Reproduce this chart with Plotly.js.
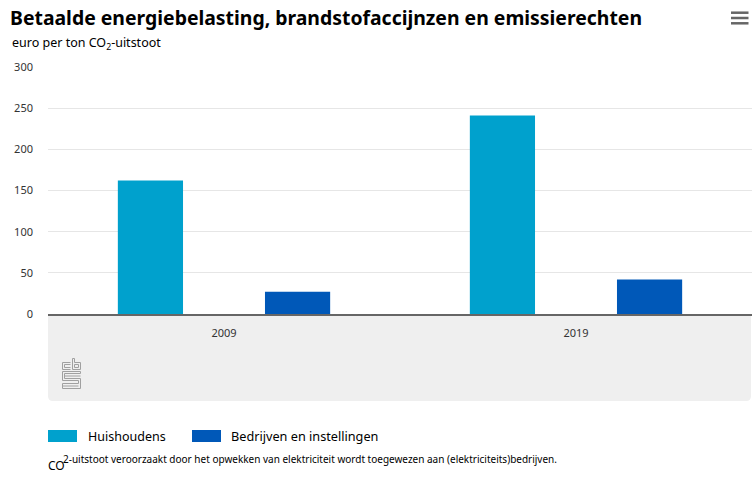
<!DOCTYPE html>
<html>
<head>
<meta charset="utf-8">
<script src="https://cdn.plot.ly/plotly-3.0.1.min.js"></script>
<style>html,body{margin:0;padding:0;background:#fff;}#chart{width:753px;height:482px;}</style>
</head>
<body>
<div id="chart"></div>
<script>
// Data
var categories = ["2009", "2019"];
var seriesNames = ["Huishoudens", "Bedrijven en instellingen"];
var huishoudens = [162, 241];
var bedrijven = [27, 42];
var yTicks = [0, 50, 100, 150, 200, 250, 300];
var colors = ["#00A1CD", "#0058B8"];

var W = 753, H = 482;
var mL = 48, mR = 1, mT = 67, mB = 168;
var pw = W - mL - mR, ph = H - mT - mB;
function px(x) { return (x - mL) / pw; }
function py(y) { return (H - mB - y) / ph; }

var font = "'Noto Sans', 'Open Sans', sans-serif";

var traces = [
  {type: "bar", name: seriesNames[0], x: categories, y: huishoudens, marker: {color: colors[0]}, hoverinfo: "y+name"},
  {type: "bar", name: seriesNames[1], x: categories, y: bedrijven, marker: {color: colors[1]}, hoverinfo: "y+name"}
];

var shapes = [];
// grey panel under the axis (rounded bottom corners)
(function(){
  var x0 = px(48), x1 = px(751), y0 = py(401), y1 = py(316);
  var r = 5;
  var rx = r / pw, ry = r / ph;
  shapes.push({type: "path", xref: "paper", yref: "paper", layer: "below",
    path: "M" + x0 + "," + y1 + " L" + x1 + "," + y1 + " L" + x1 + "," + (y0 + ry) +
          " Q" + x1 + "," + y0 + " " + (x1 - rx) + "," + y0 +
          " L" + (x0 + rx) + "," + y0 + " Q" + x0 + "," + y0 + " " + x0 + "," + (y0 + ry) + " Z",
    fillcolor: "#EFEFEF", line: {width: 0}});
})();
// hamburger menu
[12.7, 18, 23.3].forEach(function(y){
  shapes.push({type: "line", xref: "paper", yref: "paper", x0: px(731), x1: px(748.5), y0: py(y), y1: py(y),
    line: {color: "#666666", width: 2.5}});
});
// legend squares
var legX = [48, 192];
legX.forEach(function(x, i){
  shapes.push({type: "rect", xref: "paper", yref: "paper", x0: px(x), x1: px(x + 29), y0: py(442), y1: py(430),
    fillcolor: colors[i], line: {width: 0}});
});
// CBS logo (approximation, outline paths)
(function(){
  var c = "#a0a0a0";
  function P(pts) {
    var d = pts.map(function(p, i){ return (i ? "L" : "M") + px(p[0]) + "," + py(p[1]); }).join(" ");
    shapes.push({type: "path", xref: "paper", yref: "paper", path: d, line: {color: c, width: 1}});
  }
  var L = 62.5, R = 80.5;
  // "c"
  P([[L+8,362.5],[L,362.5],[L,369.5],[L+8,369.5]]);
  P([[L+8,364.5],[L+2,364.5],[L+2,367.5],[L+8,367.5]]);
  // "b"
  P([[L+10,358.5],[L+10,369.5],[R,369.5],[R,362.5],[L+12,362.5],[L+12,358.5],[L+10,358.5]]);
  P([[L+12,364.5],[R-2,364.5],[R-2,367.5],[L+12,367.5],[L+12,364.5]]);
  // "s" meander
  P([[R,371.5],[L,371.5],[L,380.5],[R-2,380.5],[R-2,383.5],[L,383.5],[L,388.5],[R,388.5],[R,378.5],[L+2,378.5],[L+2,373.5],[R,373.5],[R,371.5]]);
  P([[L+2,376],[R,376]]);
  P([[L,386],[R-2,386]]);
})();

var annotations = [
  {text: "<b>Betaalde energiebelasting, brandstofaccijnzen en emissierechten</b>", xref: "paper", yref: "paper",
   x: px(8), y: py(17), xanchor: "left", yanchor: "middle", showarrow: false,
   font: {family: font, size: 19.4, color: "#000000"}},
  {text: "euro per ton CO<sub>2</sub>-uitstoot", xref: "paper", yref: "paper",
   x: px(10), y: py(44), xanchor: "left", yanchor: "middle", showarrow: false,
   font: {family: font, size: 12.5, color: "#000000"}},
  {text: seriesNames[0], xref: "paper", yref: "paper", x: px(86), y: py(436), xanchor: "left", yanchor: "middle",
   showarrow: false, font: {family: font, size: 12.5, color: "#000000"}},
  {text: seriesNames[1], xref: "paper", yref: "paper", x: px(229), y: py(436), xanchor: "left", yanchor: "middle",
   showarrow: false, font: {family: font, size: 12.7, color: "#000000"}},
  {text: "CO", xref: "paper", yref: "paper", x: px(46), y: py(465), xanchor: "left", yanchor: "middle", showarrow: false,
   font: {family: font, size: 12, color: "#000000"}},
  {text: "2-uitstoot veroorzaakt door het opwekken van elektriciteit wordt toegewezen aan (elektriciteits)bedrijven.",
   xref: "paper", yref: "paper", x: px(61), y: py(459), xanchor: "left", yanchor: "middle", showarrow: false,
   font: {family: font, size: 10, color: "#000000"}}
];

var layout = {
  width: W, height: H,
  margin: {l: mL, r: mR, t: mT, b: mB, pad: 0},
  paper_bgcolor: "#ffffff", plot_bgcolor: "#ffffff",
  barmode: "group", bargap: 0.164, bargroupgap: 0.557,
  showlegend: false,
  font: {family: font, size: 11, color: "#333333"},
  xaxis: {type: "category", showline: true, linecolor: "#666666", linewidth: 2, ticks: "",
    tickfont: {family: font, size: 11, color: "#333333"}, ticklabelstandoff: 8, fixedrange: true},
  yaxis: {range: [0, 300], tickvals: yTicks, showgrid: true, gridcolor: "#E6E6E6", gridwidth: 1,
    zeroline: false, showline: false, ticks: "", ticklabelstandoff: 14,
    tickfont: {family: font, size: 11, color: "#333333"}, fixedrange: true},
  shapes: shapes,
  annotations: annotations
};

Plotly.newPlot("chart", traces, layout, {displayModeBar: false, responsive: false});
</script>
</body>
</html>
